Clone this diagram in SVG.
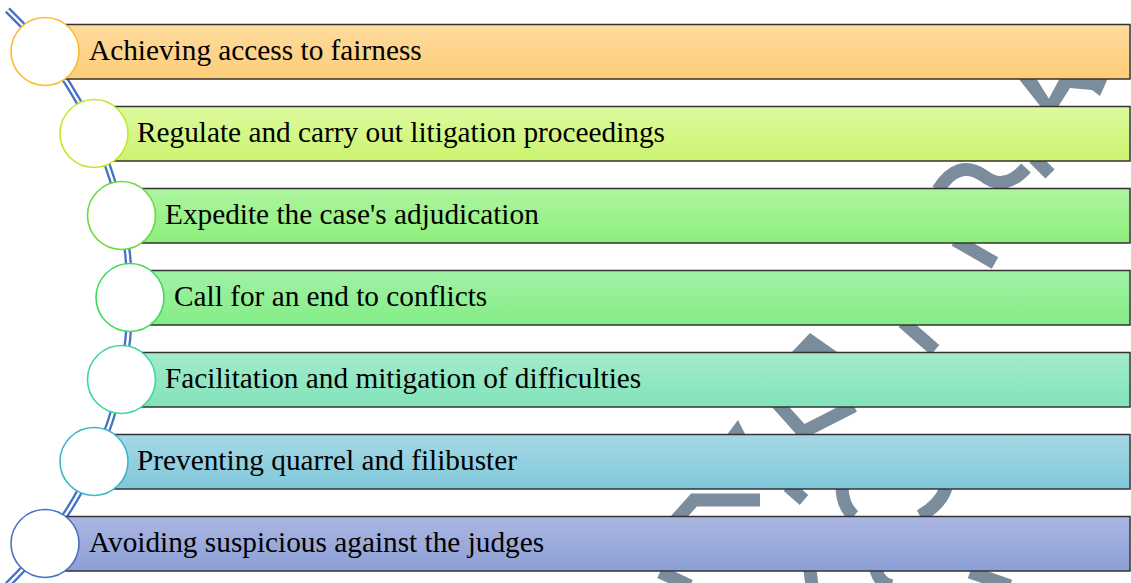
<svg xmlns="http://www.w3.org/2000/svg" width="1131" height="583" viewBox="0 0 1131 583">
  <style>
    .bar { stroke: #333333; stroke-width: 1.5; }
    .dot { fill: #ffffff; stroke-width: 1.6; }
    .label { font-family: "Liberation Serif", "Times New Roman", serif; font-size: 29.3px; fill: #000000; }
    .wm { fill: none; stroke: #7b8c9c; stroke-width: 13; }
    .wmf { fill: #7b8c9c; }
  </style>
  <defs>
    <linearGradient id="g1" x1="0" y1="0" x2="0" y2="1"><stop offset="0" stop-color="#ffdb9e"/><stop offset="1" stop-color="#fdcd78"/></linearGradient>
    <linearGradient id="g2" x1="0" y1="0" x2="0" y2="1"><stop offset="0" stop-color="#ddfa9e"/><stop offset="1" stop-color="#ccf470"/></linearGradient>
    <linearGradient id="g3" x1="0" y1="0" x2="0" y2="1"><stop offset="0" stop-color="#aef59f"/><stop offset="1" stop-color="#8def7b"/></linearGradient>
    <linearGradient id="g4" x1="0" y1="0" x2="0" y2="1"><stop offset="0" stop-color="#a2f2a6"/><stop offset="1" stop-color="#84ec86"/></linearGradient>
    <linearGradient id="g5" x1="0" y1="0" x2="0" y2="1"><stop offset="0" stop-color="#a4ebcc"/><stop offset="1" stop-color="#82e3bb"/></linearGradient>
    <linearGradient id="g6" x1="0" y1="0" x2="0" y2="1"><stop offset="0" stop-color="#a6d8e5"/><stop offset="1" stop-color="#80c8da"/></linearGradient>
    <linearGradient id="g7" x1="0" y1="0" x2="0" y2="1"><stop offset="0" stop-color="#abb7e2"/><stop offset="1" stop-color="#8c9fd5"/></linearGradient>
  </defs>

  <rect width="1131" height="583" fill="#ffffff"/>

  <!-- background watermark strokes -->
  <g id="watermark">
    <path class="wmf" d="M1018 78 L1036 78 L1054 107 L1041 107 Z"/>
    <path class="wmf" d="M1046 104 L1060 78 L1108 78 L1100 96 L1092 90 L1070 88 L1058 107 Z"/>
    <path class="wm" d="M938 190 Q958 158 984 176 Q1004 192 1026 168"/>
    <path class="wm" d="M1034 158 L1050 174"/>
    <path class="wm" d="M955 240 L995 263"/>
    <path class="wmf" d="M790 354 L810 333 L840 354 Z"/>
    <path class="wm" d="M903 322 L935 350"/>
    <path class="wm" d="M776 402 L803 432 L854 406"/>
    <path class="wmf" d="M726 436 L738 420 L746 436 Z"/>
    <path class="wm" d="M676 520 L694 500 L760 500"/>
    <path class="wm" d="M788 486 L804 500"/>
    <path class="wm" d="M842 486 Q842 506 854 516"/>
    <path class="wm" d="M920 516 Q940 505 946 488"/>
    <path class="wm" d="M660 572 L690 586"/>
    <path class="wm" d="M810 570 L812 586"/>
    <path class="wm" d="M876 570 Q880 584 892 586"/>
    <path class="wm" d="M970 572 L1010 586"/>
  </g>

  <!-- curved double spine -->
  <g id="connectors">
    <path d="M7.4 10 A398.5 398.5 0 0 1 7.4 585" fill="none" stroke="#4472c4" stroke-width="7"/>
    <path d="M7.4 10 A398.5 398.5 0 0 1 7.4 585" fill="none" stroke="#ffffff" stroke-width="2.4"/>
  </g>

  <g id="item1">
    <rect class="bar" x="45" y="24.5" width="1085" height="54.5" fill="url(#g1)"/>
    <circle class="dot" cx="45" cy="51.5" r="34" stroke="#f9bb2c"/>
    <text class="label" x="89" y="59.5">Achieving access to fairness</text>
  </g>
  <g id="item2">
    <rect class="bar" x="94" y="106.5" width="1036" height="54.5" fill="url(#g2)"/>
    <circle class="dot" cx="94" cy="133.5" r="34" stroke="#c2e824"/>
    <text class="label" x="137" y="141.5">Regulate and carry out litigation proceedings</text>
  </g>
  <g id="item3">
    <rect class="bar" x="121.5" y="188.5" width="1008.5" height="54.5" fill="url(#g3)"/>
    <circle class="dot" cx="121.5" cy="215.5" r="34" stroke="#62dd3c"/>
    <text class="label" x="165" y="223.5">Expedite the case's adjudication</text>
  </g>
  <g id="item4">
    <rect class="bar" x="130" y="270.5" width="1000" height="54.5" fill="url(#g4)"/>
    <circle class="dot" cx="130" cy="297.5" r="34" stroke="#3fda5c"/>
    <text class="label" x="174" y="305.5">Call for an end to conflicts</text>
  </g>
  <g id="item5">
    <rect class="bar" x="121.5" y="352.5" width="1008.5" height="54.5" fill="url(#g5)"/>
    <circle class="dot" cx="121.5" cy="379.5" r="34" stroke="#3bd7a0"/>
    <text class="label" x="165" y="387.5">Facilitation and mitigation of difficulties</text>
  </g>
  <g id="item6">
    <rect class="bar" x="94" y="434.5" width="1036" height="54.5" fill="url(#g6)"/>
    <circle class="dot" cx="94" cy="461.5" r="34" stroke="#3ab6c9"/>
    <text class="label" x="137" y="469.5">Preventing quarrel and filibuster</text>
  </g>
  <g id="item7">
    <rect class="bar" x="45" y="516.5" width="1085" height="54.5" fill="url(#g7)"/>
    <circle class="dot" cx="45" cy="543.5" r="34" stroke="#4472c4"/>
    <text class="label" x="89" y="551.5">Avoiding suspicious against the judges</text>
  </g>
</svg>
